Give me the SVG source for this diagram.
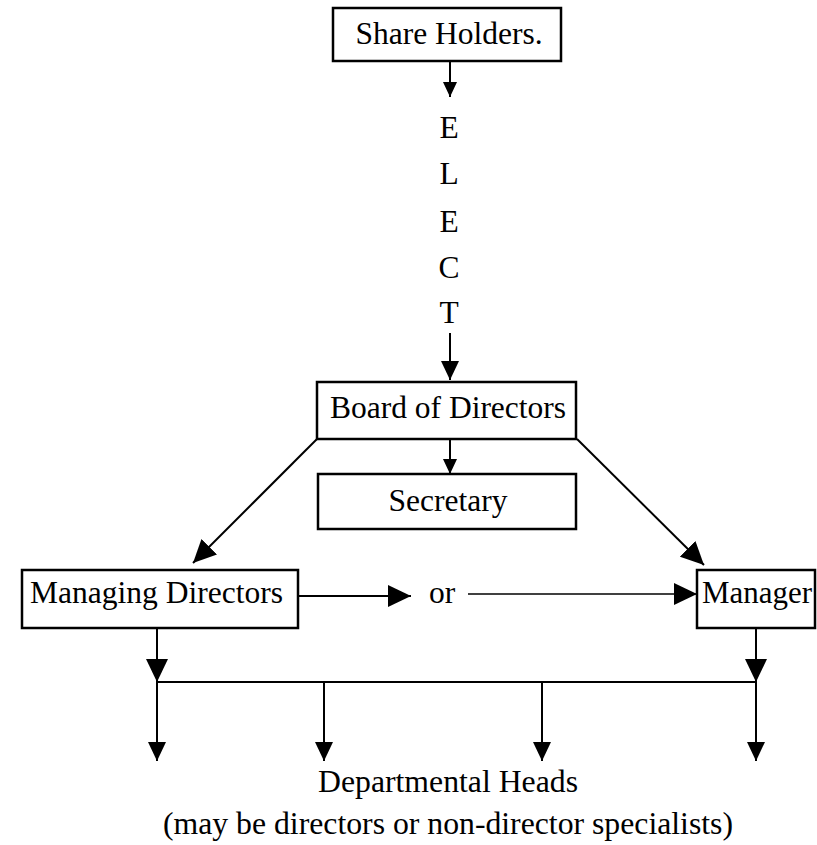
<svg xmlns="http://www.w3.org/2000/svg" width="817" height="845" viewBox="0 0 817 845">
<style>
.box{fill:#fff;stroke:#000;stroke-width:2.5}
.t{font-family:"Liberation Serif","Times New Roman",serif;font-size:31.5px;fill:#000}
.b{font-size:32.5px}
.c{stroke:#000;stroke-width:2;fill:none}
.thin{stroke:#000;stroke-width:1.5;fill:none}
</style>
<defs>
<marker id="aS" markerUnits="userSpaceOnUse" viewBox="0 0 15 14" markerWidth="15" markerHeight="14" refX="15" refY="7" orient="auto"><path d="M0,0 L15,7 L0,14 Z" fill="#000"/></marker>
<marker id="aM" markerUnits="userSpaceOnUse" viewBox="0 0 19 18" markerWidth="19" markerHeight="18" refX="19" refY="9" orient="auto"><path d="M0,0 L19,9 L0,18 Z" fill="#000"/></marker>
<marker id="aL" markerUnits="userSpaceOnUse" viewBox="0 0 23 22" markerWidth="23" markerHeight="22" refX="23" refY="11" orient="auto"><path d="M0,0 L23,11 L0,22 Z" fill="#000"/></marker>
</defs>
<g id="connectors">
<line class="c" x1="450" y1="61" x2="450" y2="97" marker-end="url(#aS)"/>
<line class="c" x1="450" y1="333" x2="450" y2="380" marker-end="url(#aM)"/>
<line class="c" x1="450" y1="439" x2="450" y2="474" marker-end="url(#aS)"/>
<line class="c" x1="317" y1="439" x2="193" y2="563" marker-end="url(#aL)"/>
<line class="c" x1="577" y1="439" x2="704" y2="565" marker-end="url(#aL)"/>
<line class="c" stroke-width="2.5" x1="298" y1="596" x2="411" y2="596" marker-end="url(#aL)"/>
<line class="thin" x1="468" y1="594" x2="697" y2="594" marker-end="url(#aL)"/>
<line class="c" x1="157" y1="628" x2="157" y2="682" marker-end="url(#aL)"/>
<line class="c" x1="756" y1="628" x2="756" y2="682" marker-end="url(#aL)"/>
<line class="c" stroke-width="2.5" x1="157" y1="682" x2="756" y2="682"/>
<line class="c" x1="157" y1="682" x2="157" y2="761" marker-end="url(#aM)"/>
<line class="c" x1="324" y1="682" x2="324" y2="761" marker-end="url(#aM)"/>
<line class="c" x1="542" y1="682" x2="542" y2="761" marker-end="url(#aM)"/>
<line class="c" x1="756" y1="682" x2="756" y2="761" marker-end="url(#aM)"/>
</g>
<g id="shareholders">
<rect class="box" x="333" y="8" width="228" height="53"/>
<text class="t" x="449" y="44" text-anchor="middle">Share Holders.</text>
</g>
<g id="elect">
<text class="t" x="449" y="138" text-anchor="middle">E</text>
<text class="t" x="449" y="184" text-anchor="middle">L</text>
<text class="t" x="449" y="232" text-anchor="middle">E</text>
<text class="t" x="449" y="278" text-anchor="middle">C</text>
<text class="t" x="449" y="323" text-anchor="middle">T</text>
</g>
<g id="board">
<rect class="box" x="317" y="382" width="259" height="57"/>
<text class="t" x="448" y="418" text-anchor="middle">Board of Directors</text>
</g>
<g id="secretary">
<rect class="box" x="318" y="474" width="258" height="55"/>
<text class="t" x="448" y="511" text-anchor="middle">Secretary</text>
</g>
<g id="managing">
<rect class="box" x="22" y="570" width="276" height="58"/>
<text class="t" x="30" y="603" textLength="253" lengthAdjust="spacingAndGlyphs">Managing Directors</text>
</g>
<g id="or">
<text class="t" x="442" y="603" text-anchor="middle">or</text>
</g>
<g id="manager">
<rect class="box" x="697" y="570" width="118" height="58"/>
<text class="t" x="702" y="603" textLength="110" lengthAdjust="spacingAndGlyphs">Manager</text>
</g>
<g id="heads">
<text class="t b" x="318" y="792" textLength="260" lengthAdjust="spacingAndGlyphs">Departmental Heads</text>
<text class="t b" x="163" y="834" textLength="570" lengthAdjust="spacingAndGlyphs">(may be directors or non-director specialists)</text>
</g>
</svg>
